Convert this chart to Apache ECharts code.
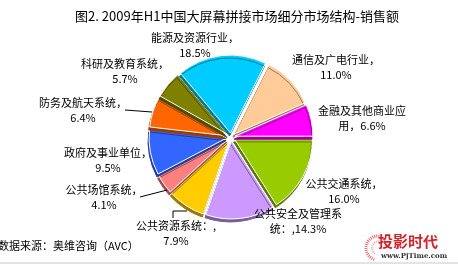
<!DOCTYPE html>
<html><head><meta charset="utf-8">
<script src="https://cdn.jsdelivr.net/npm/echarts@6/dist/echarts.min.js"></script>
<style>html,body{margin:0;padding:0;background:#fff}#c{width:458px;height:265px}</style>
</head><body><div id="c"></div>
<script>
var categories = ['公共交通系统','公共安全及管理系统','公共资源系统','公共场馆系统','政府及事业单位','防务及航天系统','科研及教育系统','能源及资源行业','通信及广电行业','金融及其他商业应用'];
var values = [16.0,14.3,7.9,4.1,9.5,6.4,5.7,18.5,11.0,6.6];
var labelTexts = ['公共交通系统，\n16.0%','公共安全及管理系\n统：,14.3%','公共资源系统：,\n7.9%','公共场馆系统，\n4.1%','政府及事业单位，\n9.5%','防务及航天系统，\n6.4%','科研及教育系统，\n5.7%','能源及资源行业，\n18.5%','通信及广电行业，\n11.0%','金融及其他商业应\n用，6.6%'];
var colors = ['#99CC00','#CC99FF','#FFCC00','#FF8080','#3366FF','#FF6600','#808000','#00CCFF','#FFCC99','#FF00FF'];
var darks = ['#5c7a00','#7a5c99','#997a00','#994d4d','#1f3d99','#993d00','#4d4d00','#007a99','#997a5c','#990099'];
var labelPos = [[344,191],[298,221],[176,233],[104,197],[108,160],[83,110],[125,71],[195,45],[336,67],[362,118]];
var guides = [
  [[125,110],[152,112]],
  [[140,197],[167,190]],
  [[173,218],[173,211],[187,211]]
];

var chart = echarts.init(document.getElementById('c'));
var data = categories.map(function(n,i){
  return {name:n, value:values[i], selected:true,
    itemStyle:{color:colors[i], shadowColor:darks[i], shadowOffsetY:3, shadowOffsetX:-1, shadowBlur:0}};
});
var graphics = [
  {type:'text', left:-2, top:240, style:{text:'数据来源：奥维咨询（AVC）', font:'11px "Noto Sans CJK SC"', fill:'#000'}},
  {type:'text', left:378, top:234, style:{text:'投影时代', font:'bold 15px "Noto Sans CJK SC"', fill:'#d4232b'}},
  {type:'text', left:381, top:253, style:{text:'www.PjTime.com', font:'bold 7px "DejaVu Serif"', fill:'#333'}},
  {type:'arc', shape:{cx:378, cy:248, r:12, startAngle:Math.PI*0.6, endAngle:Math.PI*1.55}, style:{stroke:'#e8646b', lineWidth:3, lineDash:[1,1], fill:null}},
  {type:'arc', shape:{cx:379, cy:248, r:7, startAngle:Math.PI*0.7, endAngle:Math.PI*1.5}, style:{stroke:'#f0a0a4', lineWidth:2, lineDash:[1,1], fill:null}},
  {type:'line', shape:{x1:0, y1:263, x2:458, y2:263}, style:{stroke:'#c8c8c8', lineWidth:1}}
];
labelTexts.forEach(function(t,i){
  graphics.push({type:'text', x:labelPos[i][0], y:labelPos[i][1], z:10,
    style:{text:t, font:'11px "Noto Sans CJK SC"', fill:'#000', textAlign:'center', textVerticalAlign:'middle', lineHeight:15}});
});
guides.forEach(function(g){
  graphics.push({type:'polyline', z:10, shape:{points:g}, style:{stroke:'#000', lineWidth:1, fill:null}});
});
chart.setOption({
  animation:false,
  title:{text:'图2. 2009年H1中国大屏幕拼接市场细分市场结构-销售额', left:232, textAlign:'center', top:5,
    textStyle:{fontSize:13, fontWeight:'normal', color:'#000', fontFamily:'Noto Sans CJK SC'}},
  graphic:graphics,
  series:[{
    type:'pie', center:[231,137], radius:78, startAngle:0, clockwise:true,
    selectedMode:'multiple', selectedOffset:4,
    itemStyle:{borderColor:'#fff', borderWidth:1},
    label:{show:false},
    labelLine:{show:false},
    emphasis:{disabled:true},
    data:data
  }]
});
</script></body></html>
